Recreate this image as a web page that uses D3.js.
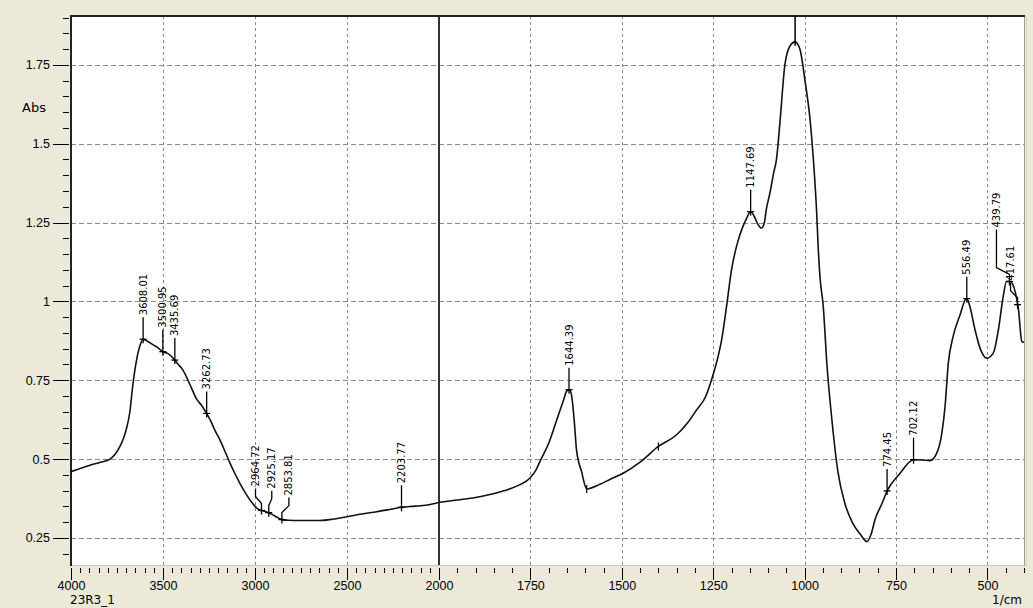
<!DOCTYPE html>
<html>
  <head>
    <meta charset="utf-8">
    <title>23R3_1</title>
    <script src="https://d3js.org/d3.v7.min.js"></script>
    <style>
      body { margin: 0; background: #ece9d8; }
      svg { display: block; font-family: "DejaVu Sans", sans-serif; }
      .axis text { font-size: 12.5px; fill: #000; }
      .axis line { stroke: #000; }
      .axis path { display: none; }
      .peak text { font-size: 10px; fill: #000; }
    </style>
  </head>

  <body>
    <svg id="chart" width="1033" height="608"></svg>

    <script>
      // spectrum (1/cm, Abs)
      wavenumbers = [4000, 3950, 3897, 3840, 3788, 3760, 3734, 3715, 3697, 3680, 3665, 3645, 3625, 3608,
        3580, 3553, 3525, 3500, 3475, 3453, 3436, 3417, 3395, 3372, 3345, 3317, 3290, 3263, 3240, 3217,
        3190, 3160, 3136, 3110, 3082, 3055, 3027, 3000, 2980, 2965, 2945, 2925, 2900, 2882, 2854, 2819,
        2750, 2647, 2570, 2493, 2420, 2339, 2270, 2204, 2150, 2100, 2048, 2000, 1950, 1900, 1870, 1820,
        1780, 1751, 1735, 1724, 1700, 1678, 1660, 1651, 1644, 1638, 1630, 1624, 1610, 1596, 1560, 1530,
        1496, 1450, 1400, 1350, 1320, 1296, 1270, 1255, 1240, 1227, 1214, 1200, 1185, 1169, 1158, 1148,
        1138, 1128, 1118, 1110, 1105, 1095, 1085, 1077, 1067, 1054, 1040, 1026, 1013, 999, 985, 976,
        967, 963, 958, 949, 939, 925, 909, 890, 870, 848, 829, 818, 807, 788, 774, 739, 712, 702, 679,
        657, 639, 625, 616, 607, 594, 575, 557, 548, 534, 520, 502, 484, 470, 457, 448, 438, 424, 415,
        406, 400];
      absorbance = [0.46, 0.47, 0.48, 0.49, 0.50, 0.515, 0.54, 0.565, 0.60, 0.65, 0.73, 0.81, 0.86, 0.88,
        0.872, 0.862, 0.852, 0.84, 0.835, 0.825, 0.814, 0.80, 0.785, 0.76, 0.725, 0.69, 0.67, 0.645, 0.62, 0.59,
        0.56, 0.52, 0.487, 0.455, 0.423, 0.395, 0.37, 0.35, 0.34, 0.337, 0.334, 0.33, 0.322, 0.316, 0.308, 0.306,
        0.305, 0.305, 0.31, 0.318, 0.326, 0.333, 0.34, 0.347, 0.35, 0.352, 0.356, 0.362, 0.37, 0.378, 0.385, 0.40,
        0.418, 0.44, 0.465, 0.492, 0.55, 0.624, 0.685, 0.715, 0.72, 0.705, 0.62, 0.53, 0.46, 0.405, 0.42, 0.437,
        0.455, 0.49, 0.54, 0.577, 0.615, 0.655, 0.70, 0.75, 0.81, 0.878, 0.98, 1.10, 1.18, 1.237, 1.265, 1.285,
        1.27, 1.245, 1.232, 1.25, 1.29, 1.343, 1.406, 1.45, 1.575, 1.75, 1.81, 1.823, 1.80, 1.70, 1.575, 1.449,
        1.28, 1.174, 1.078, 0.983, 0.80, 0.62, 0.46, 0.36, 0.30, 0.262, 0.238, 0.262, 0.31, 0.36, 0.40, 0.455, 0.492, 0.498, 0.497,
        0.495, 0.518, 0.58, 0.666, 0.804, 0.888, 0.957, 1.01, 0.984, 0.91, 0.851, 0.82, 0.836, 0.91, 1.015, 1.063, 1.063, 1.03, 0.973,
        0.873, 0.87];

      // labelled peaks
      peakLabels = ["3608.01", "3500.95", "3435.69", "3262.73", "2964.72", "2925.17", "2853.81", "2203.77",
        "1644.39", "1147.69", "774.45", "702.12", "556.49", "439.79", "417.61"];
      // unlabelled marks on the curve
      peakMarks = [1596, 1400];
      topMarks = [1026];

      // axes
      xTicks = [4000, 3500, 3000, 2500, 2000, 1750, 1500, 1250, 1000, 750, 500];
      yTicks = [0.25, 0.5, 0.75, 1, 1.25, 1.5, 1.75];

      // label nudges so the crowded ones don't overlap
      labelShift = {"2964.72": [-6, 0], "2925.17": [3, 0], "2853.81": [7, 0], "439.79": [-13, 30], "417.61": [-7, 0]};

      spectrum = wavenumbers.map((w, i) => ({wn: w, abs: absorbance[i]}));

      plot = {left: 71, top: 16, right: 1024, bottom: 565};

      svg = d3.select("#chart");

      xScale = d3.scaleLinear()
        .domain([4000, 2000, 400])
        .range([plot.left, 439, plot.right]);
      yScale = d3.scaleLinear()
        .domain([0.164, 1.905])
        .range([plot.bottom, plot.top]);

      // plot background
      svg.append("rect")
        .attr("x", plot.left)
        .attr("y", plot.top)
        .attr("width", plot.right - plot.left)
        .attr("height", plot.bottom - plot.top)
        .style("fill", "#fff");

      // grid
      grid = svg.append("g").classed("grid", true);
      grid.selectAll(".gx")
          .data(xTicks.filter(d => d != 4000 && d != 2000))
        .enter().append("line")
          .attr("x1", d => Math.round(xScale(d)) + 0.5)
          .attr("x2", d => Math.round(xScale(d)) + 0.5)
          .attr("y1", plot.top)
          .attr("y2", plot.bottom)
          .style("stroke", "#8a8a8a")
          .style("stroke-dasharray", "3,3");
      grid.selectAll(".gy")
          .data(yTicks)
        .enter().append("line")
          .attr("x1", plot.left)
          .attr("x2", plot.right)
          .attr("y1", d => Math.round(yScale(d)) + 0.5)
          .attr("y2", d => Math.round(yScale(d)) + 0.5)
          .style("stroke", "#8a8a8a")
          .style("stroke-dasharray", "5,3");

      // scale break at 2000
      svg.append("line")
        .attr("x1", xScale(2000))
        .attr("x2", xScale(2000))
        .attr("y1", plot.top)
        .attr("y2", plot.bottom)
        .style("stroke", "#333")
        .style("stroke-width", 2);

      // frame
      svg.append("line")
        .attr("x1", plot.left).attr("x2", plot.right + 1)
        .attr("y1", plot.bottom + 0.5).attr("y2", plot.bottom + 0.5)
        .style("stroke", "#c8c8c8");
      svg.append("line")
        .attr("x1", plot.right + 0.5).attr("x2", plot.right + 0.5)
        .attr("y1", plot.top).attr("y2", plot.bottom + 1)
        .style("stroke", "#9a9a9a");
      svg.append("line")
        .attr("x1", plot.right + 2.5).attr("x2", plot.right + 2.5)
        .attr("y1", plot.top).attr("y2", plot.bottom + 2)
        .style("stroke", "#d6d3c6");
      svg.append("line")
        .attr("x1", plot.left - 1).attr("x2", plot.right + 1)
        .attr("y1", plot.top).attr("y2", plot.top)
        .style("stroke", "#222")
        .style("stroke-width", 2);
      svg.append("line")
        .attr("x1", plot.left).attr("x2", plot.left)
        .attr("y1", plot.top - 1).attr("y2", plot.bottom + 1)
        .style("stroke", "#222")
        .style("stroke-width", 2);

      // x axis
      svg.append("g")
        .classed("axis", true)
        .attr("transform", "translate(0, 568)")
        .call(d3.axisBottom(xScale)
          .tickValues(d3.range(400, 4001, 50))
          .tickSize(5)
          .tickFormat("")
        );
      svg.append("g")
        .classed("axis", true)
        .attr("transform", "translate(0, 568)")
        .call(d3.axisBottom(xScale)
          .tickValues(xTicks)
          .tickSize(12)
          .tickPadding(1)
          .tickFormat(d => d)
        );

      // y axis
      svg.append("g")
        .classed("axis", true)
        .attr("transform", "translate(69, 0)")
        .call(d3.axisLeft(yScale)
          .tickValues(d3.range(4, 39).map(d => d * 0.05))
          .tickSize(6)
          .tickFormat("")
        );
      svg.append("g")
        .classed("axis", true)
        .attr("transform", "translate(69, 0)")
        .call(d3.axisLeft(yScale)
          .tickValues(yTicks)
          .tickSize(16)
          .tickPadding(3)
          .tickFormat(d => String(d))
        );

      svg.selectAll(".axis .tick line")
        .attr("shape-rendering", "crispEdges");

      // axis captions
      svg.append("text")
        .attr("x", 22)
        .attr("y", 112)
        .style("font-size", "13px")
        .text("Abs");
      svg.append("text")
        .attr("x", 70)
        .attr("y", 604)
        .style("font-size", "12px")
        .text("23R3_1");
      svg.append("text")
        .attr("x", 1022)
        .attr("y", 604)
        .attr("text-anchor", "end")
        .style("font-size", "12px")
        .text("1/cm");

      // curve
      svg.append("clipPath")
        .attr("id", "clip")
        .append("rect")
          .attr("x", plot.left)
          .attr("y", plot.top)
          .attr("width", plot.right - plot.left)
          .attr("height", plot.bottom - plot.top);

      line = d3.line()
        .x(d => xScale(d.wn))
        .y(d => yScale(d.abs))
        .curve(d3.curveMonotoneX);

      svg.append("path")
        .datum(spectrum)
        .attr("clip-path", "url(#clip)")
        .attr("d", line)
        .style("fill", "none")
        .style("stroke", "#111")
        .style("stroke-width", 1.6);

      // absorbance at a wavenumber, for marks on the curve
      function absAt(w) {
        let i = spectrum.findIndex(d => d.wn <= w);
        if (i <= 0) return spectrum[Math.max(i, 0)].abs;
        let a = spectrum[i - 1], b = spectrum[i];
        return a.abs + (b.abs - a.abs) * (a.wn - w) / (a.wn - b.wn);
      }

      // peak labels
      peaks = svg.append("g")
        .classed("peak", true)
        .attr("clip-path", "url(#clip)")
        .selectAll("g")
          .data(peakLabels)
        .enter().append("g");

      peaks.each(function(d) {
        let px = xScale(+d);
        let py = yScale(absAt(+d));
        let shift = labelShift[d] || [0, 0];
        let lx = px + shift[0];
        let top = py - 22 - shift[1];
        let g = d3.select(this);

        g.append("path")
          .attr("d", lx == px
            ? "M" + px + "," + (py + 4) + "V" + top
            : "M" + px + "," + (py + 4) + "V" + (py - 7) + "L" + lx + "," + (py - 14) + "V" + top)
          .style("fill", "none")
          .style("stroke", "#000")
          .style("stroke-width", 1.3);
        g.append("line")
          .attr("x1", px - 3.5)
          .attr("x2", px + 3.5)
          .attr("y1", py)
          .attr("y2", py)
          .style("stroke", "#000")
          .style("stroke-width", 1.3);
        g.append("text")
          .attr("transform", "translate(" + lx + ", " + (top - 2) + ") rotate(-90)")
          .attr("dy", "0.35em")
          .text(d);
      });

      // unlabelled marks
      svg.selectAll(".mark")
          .data(peakMarks)
        .enter().append("line")
          .attr("x1", d => xScale(d))
          .attr("x2", d => xScale(d))
          .attr("y1", d => yScale(absAt(d)) - 4)
          .attr("y2", d => yScale(absAt(d)) + 4)
          .style("stroke", "#000")
          .style("stroke-width", 1.2);
      svg.selectAll(".topmark")
          .data(topMarks)
        .enter().append("line")
          .attr("x1", d => xScale(d))
          .attr("x2", d => xScale(d))
          .attr("y1", d => yScale(absAt(d)) + 4)
          .attr("y2", plot.top)
          .style("stroke", "#000")
          .style("stroke-width", 1.5);
    </script>
  </body>
</html>
